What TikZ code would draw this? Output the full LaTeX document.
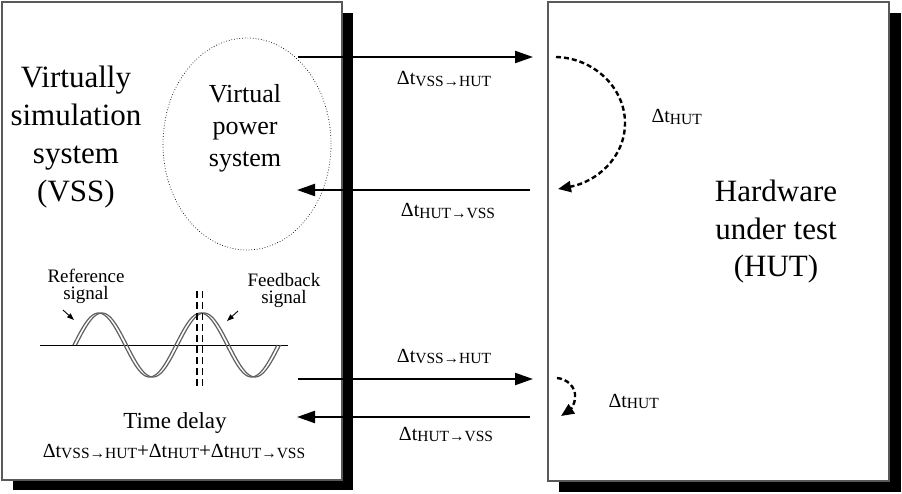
\documentclass[tikz,border=0pt]{standalone}
\usepackage{fontspec}
\setmainfont{Liberation Serif}
\usetikzlibrary{arrows.meta}
\newcommand{\dtlab}[1]{{\fontsize{20}{24}\selectfont Δt}{\fontsize{15.5}{18}\selectfont\raisebox{-1.5pt}{#1}}}
\tikzset{
  panel/.style={draw=gray!70!black, line width=1.3pt, fill=white},
  shadowbox/.style={fill=black},
  sig/.style={line width=2.2pt, -{Triangle[length=18pt,width=12pt]}},
  loop/.style={line width=2.4pt, dash pattern=on 5pt off 3pt, -{Triangle[length=13pt,width=11pt]}},
  small/.style={line width=0.9pt, -{Triangle[length=7pt,width=5pt]}},
  wave/.style={draw=gray!75!black, line width=1.2pt},
}
\begin{document}
\begin{tikzpicture}[x=1pt,y=-1pt]
\useasboundingbox (0,0) rectangle (902,494);
% shadows and panels
\fill[shadowbox] (13,13) rectangle (353,490);
\draw[panel] (2,2) rectangle (342,480);
\fill[shadowbox] (559,13) rectangle (901,492);
\draw[panel] (548,2) rectangle (889,481);
% titles
\node[align=center, font=\fontsize{31}{38}\selectfont, anchor=base] (vss) at (76,202) {Virtually\\simulation\\system\\(VSS)};
\node[align=center, font=\fontsize{31}{37.5}\selectfont, anchor=base] (hut) at (776,277) {Hardware\\under test\\(HUT)};
% ellipse
\draw[dotted, line width=0.7pt] (247,144) ellipse [x radius=84pt, y radius=106pt];
\node[align=center, font=\fontsize{26}{32}\selectfont, anchor=base] (vps) at (245,167) {Virtual\\power\\system};
% arrows top
\coordinate (a1s) at (298,57); \coordinate (a1e) at (533,57);
\coordinate (a2s) at (530,190); \coordinate (a2e) at (297,190);
\draw[sig] (a1s) -- (a1e);
\draw[sig] (a2s) -- (a2e);
\node[anchor=base] (l1) at (444,85) {\dtlab{VSS→HUT}};
\node[anchor=base] (l2) at (448,217) {\dtlab{HUT→VSS}};
\coordinate (c1s) at (556,57); \coordinate (c1m) at (625,123); \coordinate (c1e) at (558,189);
\draw[loop] (c1s) .. controls (594,58) and (625,88) .. (c1m) .. controls (625,158) and (596,182) .. (c1e);
\node[anchor=base west] (l3) at (648,123) {\dtlab{HUT}};
% arrows bottom
\coordinate (a3s) at (298,379); \coordinate (a3e) at (533,379);
\coordinate (a4s) at (530,417); \coordinate (a4e) at (297,417);
\draw[sig] (a3s) -- (a3e);
\draw[sig] (a4s) -- (a4e);
\node[anchor=base] (l4) at (444,362) {\dtlab{VSS→HUT}};
\node[anchor=base] (l5) at (446,440) {\dtlab{HUT→VSS}};
\coordinate (c2s) at (557,378); \coordinate (c2m) at (575,397); \coordinate (c2e) at (561,416);
\draw[loop] (c2s) .. controls (568,379) and (576,388) .. (c2m) .. controls (575,405) and (570,410) .. (c2e);
\node[anchor=base west] (l6) at (605,407) {\dtlab{HUT}};
% waveform
\coordinate (ax1) at (40,345); \coordinate (ax2) at (288,345);
\draw[line width=1pt] (ax1) -- (ax2);
\draw[wave] plot[domain=0:204, samples=150, smooth] ({73+\x}, {345-32*sin(3.529412*\x)});
\draw[wave] plot[domain=0:204, samples=150, smooth] ({76.5+\x}, {345-32*sin(3.529412*\x)});
\coordinate (d1s) at (197,291); \coordinate (d1e) at (197,389);
\coordinate (d2s) at (202.5,291); \coordinate (d2e) at (202.5,389);
\draw[line width=1.2pt, dash pattern=on 7pt off 4pt] (d1s) -- (d1e);
\draw[line width=1.2pt, dash pattern=on 7pt off 4pt] (d2s) -- (d2e);
\node[align=center, font=\fontsize{19}{17}\selectfont, anchor=base] (ref) at (86,299) {Reference\\signal};
\node[align=center, font=\fontsize{19}{17}\selectfont, anchor=base] (fb) at (284,303) {Feedback\\signal};
\coordinate (r1) at (63,310); \coordinate (r2) at (74,320);
\coordinate (f1) at (238,311); \coordinate (f2) at (227,321);
\draw[small] (r1) -- (r2);
\draw[small] (f1) -- (f2);
% time delay
\node[anchor=base, font=\fontsize{23}{28}\selectfont] (td) at (175,428) {Time delay};
\node[anchor=base] (tf) at (174,457) {\dtlab{VSS→HUT}{\fontsize{21}{24}\selectfont+}\dtlab{HUT}{\fontsize{21}{24}\selectfont+}\dtlab{HUT→VSS}};
\end{tikzpicture}
\end{document}
